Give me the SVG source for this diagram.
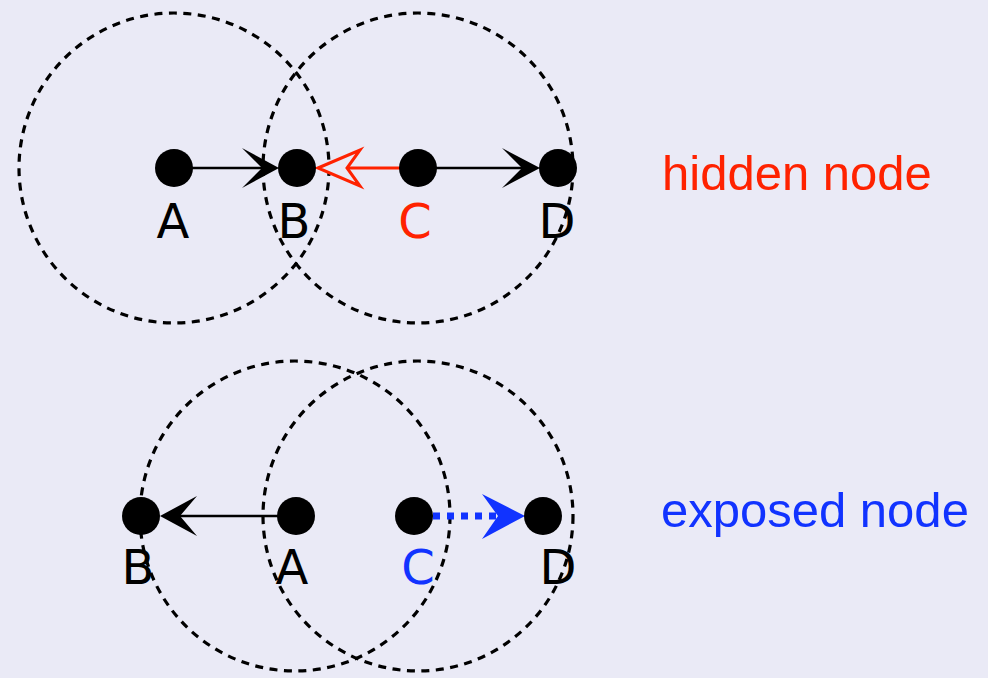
<svg xmlns="http://www.w3.org/2000/svg" width="988" height="678" viewBox="0 0 988 678">
<style>
.range{fill:none;stroke:#000;stroke-width:3.2;stroke-dasharray:8 6.5}
.node{fill:#000}
.lbl{font-family:"DejaVu Sans",sans-serif;font-size:48px;text-anchor:middle;fill:#000}
.big{font-family:"Liberation Sans",Arial,sans-serif;font-size:49px}
.edge{stroke:#000;stroke-width:2.6;fill:none}
</style>
<rect x="0" y="0" width="988" height="678" fill="#EAEAF6"/>
<g id="ranges">
<circle class="range" cx="174" cy="168" r="155"/>
<circle class="range" cx="418" cy="168" r="155"/>
<circle class="range" cx="295" cy="516" r="155"/>
<circle class="range" cx="418" cy="516" r="155"/>
</g>
<g id="connectors">
<line class="edge" x1="174" y1="168" x2="266" y2="168"/>
<path d="M279,168 L242,148 L262,168 L242,188 Z" fill="#000"/>
<line x1="348" y1="168" x2="400" y2="168" stroke="#FF2200" stroke-width="3"/>
<path d="M318,168 L360,150 L347,168 L360,186 Z" fill="#EAEAF6" stroke="#FF2200" stroke-width="3" stroke-linejoin="miter"/>
<line class="edge" x1="418" y1="168" x2="527" y2="168"/>
<path d="M540,168 L502,148 L522,168 L502,188 Z" fill="#000"/>
<line class="edge" x1="296" y1="516" x2="172" y2="516" stroke-width="2.2"/>
<path d="M160,516 L197,496 L180,516 L197,536 Z" fill="#000"/>
<line x1="433" y1="516" x2="498" y2="516" stroke="#1133FF" stroke-width="7" stroke-dasharray="7 7"/>
<path d="M525,516 L482,494 L498,516 L482,539 Z" fill="#1133FF"/>
</g>
<g id="top-A"><circle class="node" cx="174" cy="168" r="19"/><text class="lbl" x="173" y="238">A</text></g>
<g id="top-B"><circle class="node" cx="297" cy="168" r="19"/><text class="lbl" x="294" y="238">B</text></g>
<g id="top-C"><circle class="node" cx="418" cy="168" r="19"/><text class="lbl" x="415" y="238" style="fill:#FF2200">C</text></g>
<g id="top-D"><circle class="node" cx="558" cy="168" r="19"/><text class="lbl" x="557" y="238">D</text></g>
<g id="bot-B"><circle class="node" cx="141" cy="516" r="19"/><text class="lbl" x="138" y="584">B</text></g>
<g id="bot-A"><circle class="node" cx="296" cy="516" r="19"/><text class="lbl" x="292" y="584">A</text></g>
<g id="bot-C"><circle class="node" cx="414" cy="516" r="19"/><text class="lbl" x="418" y="584" style="fill:#1133FF">C</text></g>
<g id="bot-D"><circle class="node" cx="543" cy="516" r="19"/><text class="lbl" x="558" y="584">D</text></g>
<g id="caption-hidden"><text class="big" x="662" y="190" fill="#FF2200">hidden node</text></g>
<g id="caption-exposed"><text class="big" x="661" y="527" fill="#1133FF">exposed node</text></g>
</svg>
